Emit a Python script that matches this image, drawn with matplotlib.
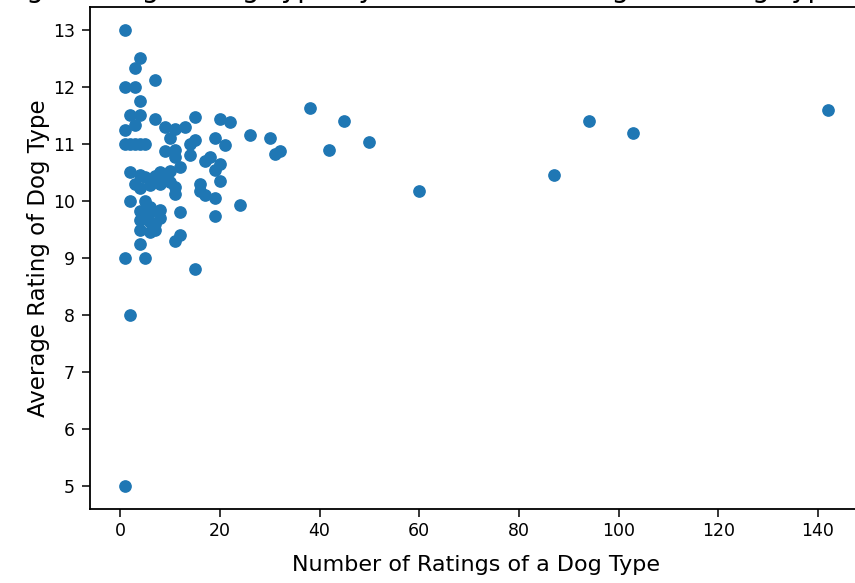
import matplotlib
matplotlib.use("Agg")
import matplotlib.pyplot as plt

# Number of ratings per dog type and the average rating of that type
n_ratings = [1, 4, 3, 7, 1, 3, 4, 2, 4, 1, 3, 1, 2, 3, 4, 5, 7, 9, 11, 13,
             15, 20, 22, 26, 10, 15, 19, 21, 14, 9, 11, 11, 14, 18, 17, 20, 19, 12, 10, 2,
             4, 5, 7, 8, 10, 11, 11, 3, 4, 6, 8, 16, 16, 17, 20, 19, 24, 2, 5, 4,
             6, 8, 12, 19, 4, 6, 8, 4, 6, 7, 12, 11, 4, 1, 5, 15, 2, 1, 30, 31,
             32, 38, 42, 45, 50, 60, 87, 94, 103, 142, 5, 7, 9, 6]
avg_rating = [13.0, 12.5, 12.33, 12.12, 12.0, 12.0, 11.75, 11.5, 11.5, 11.25,
              11.33, 11.0, 11.0, 11.0, 11.0, 11.0, 11.43, 11.3, 11.27, 11.3,
              11.47, 11.43, 11.38, 11.15, 11.1, 11.07, 11.1, 10.98, 11.0, 10.87,
              10.9, 10.78, 10.8, 10.78, 10.7, 10.65, 10.55, 10.6, 10.53, 10.5,
              10.46, 10.42, 10.43, 10.5, 10.33, 10.25, 10.13, 10.3, 10.22, 10.28,
              10.3, 10.3, 10.17, 10.1, 10.35, 10.05, 9.93, 10.0, 10.0, 9.83,
              9.8, 9.85, 9.8, 9.73, 9.67, 9.63, 9.7, 9.5, 9.46, 9.5,
              9.4, 9.3, 9.25, 9.0, 9.0, 8.8, 8.0, 5.0, 11.1, 10.83,
              10.87, 11.63, 10.9, 11.4, 11.03, 10.17, 10.45, 11.4, 11.2, 11.6,
              9.7, 9.6, 10.4, 9.9]

title = "Average Rating of Dog Type by Number of Ratings of a Dog Type"

fig = plt.figure(figsize=(8.55, 5.83), dpi=100)
# the axes run a little past the right edge of the picture, like the reference crop
ax = fig.add_axes([0.1053, 0.1269, 0.904, 0.861])

ax.scatter(n_ratings, avg_rating, s=66, color="#1f77b4")

ax.set_xlabel("Number of Ratings of a Dog Type", fontsize=16, labelpad=11)
ax.set_ylabel("Average Rating of Dog Type", fontsize=16.5, labelpad=2)
ax.tick_params(length=6, width=1.1, labelsize=12.5)
ax.tick_params(axis="y", pad=5)
ax.spines["right"].set_visible(False)
for sp in ax.spines.values():
    sp.set_linewidth(1.3)

# the title sits mostly above the top edge of the picture
fig.text(0.462, 1.006, title, ha="center", va="baseline", fontsize=20)

fig.savefig("out.png", dpi=100)
